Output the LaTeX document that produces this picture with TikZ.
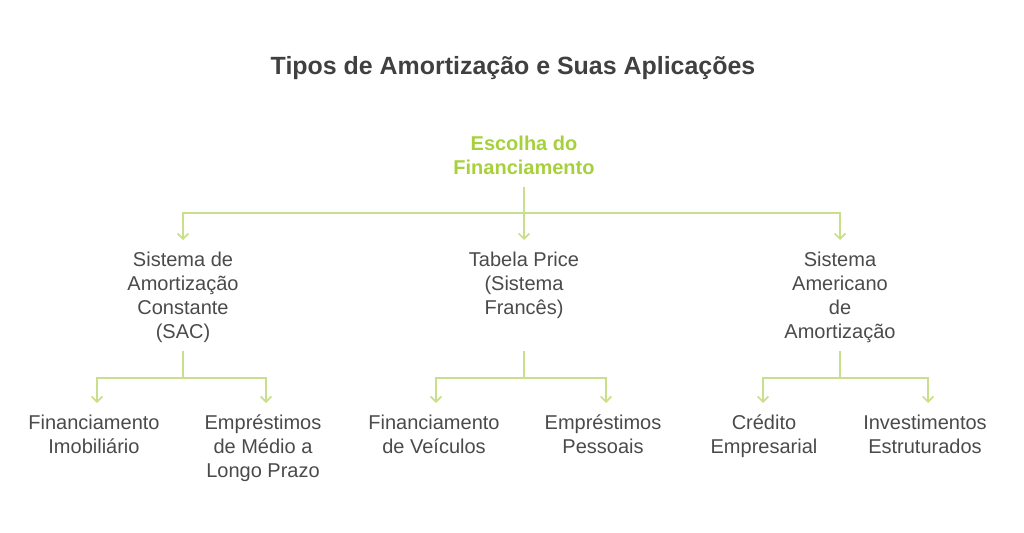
\documentclass[tikz,border=0pt]{standalone}
\usepackage{fontspec}
\setmainfont{Liberation Sans}
\usetikzlibrary{arrows.meta}
\definecolor{txt}{HTML}{4A4A4A}
\definecolor{ttl}{HTML}{404040}
\definecolor{rootg}{HTML}{A6D13C}
\definecolor{lng}{HTML}{C8DF8C}
\tikzset{
  lbl/.style={align=center, text=txt, font=\fontsize{15pt}{18pt}\selectfont, inner xsep=0pt, inner ysep=5.6pt, anchor=north,
    execute at begin node=\strut, execute at end node=\strut},
  rootlbl/.style={align=center, text=rootg, font=\fontsize{15pt}{18pt}\selectfont\bfseries, inner sep=0pt},
  ttllbl/.style={text=ttl, font=\fontsize{18.7pt}{22pt}\selectfont\bfseries, inner sep=0pt},
  conn/.style={draw=lng, line width=1.5pt},
  arr/.style={conn, shorten >=3pt, -{Straight Barb[length=4pt, width=8pt, line width=1.3pt]}},
}
\begin{document}
\begin{tikzpicture}[x=0.75pt, y=-0.75pt]
\useasboundingbox (0,0) rectangle (1024,532);
\node[ttllbl] (title) at (513,68) {Tipos de Amortização e Suas Aplicações};
\node[rootlbl] (root) at (524,155) {Escolha do\\Financiamento};

\node[lbl] (sac) at (183,244) {Sistema de\\Amortização\\Constante\\(SAC)};
\node[lbl] (tab) at (524,244) {Tabela Price\\(Sistema\\Francês)};
\node[lbl] (ame) at (840,244) {Sistema\\Americano\\de\\Amortização};

\node[lbl] (l1) at (94,407) {Financiamento\\Imobiliário};
\node[lbl] (l2) at (263,407) {Empréstimos\\de Médio a\\Longo Prazo};
\node[lbl] (l3) at (434,407) {Financiamento\\de Veículos};
\node[lbl] (l4) at (603,407) {Empréstimos\\Pessoais};
\node[lbl] (l5) at (764,407) {Crédito\\Empresarial};
\node[lbl] (l6) at (925,407) {Investimentos\\Estruturados};

\coordinate (j0) at (524,213);
\draw[conn] ([yshift=-9pt]root.south) -- (j0);
\draw[arr] (j0) -| (sac.north);
\draw[arr] (j0) -- (tab.north);
\draw[arr] (j0) -| (ame.north);

\coordinate (j1) at (183,378);
\coordinate (j2) at (524,378);
\coordinate (j3) at (840,378);
\draw[conn, shorten <=-1.5pt] (sac.south) -- (j1);
\draw[conn, shorten <=-1.5pt] (sac.south -| tab.south) -- (j2);
\draw[conn, shorten <=-1.5pt] (ame.south) -- (j3);
\draw[arr] (j1) -| (l1.north -| 97,0);
\draw[arr] (j1) -| (l2.north -| 266,0);
\draw[arr] (j2) -| (l3.north -| 436,0);
\draw[arr] (j2) -| (l4.north -| 606,0);
\draw[arr] (j3) -| (l5.north -| 763,0);
\draw[arr] (j3) -| (l6.north -| 928,0);
\end{tikzpicture}
\end{document}
